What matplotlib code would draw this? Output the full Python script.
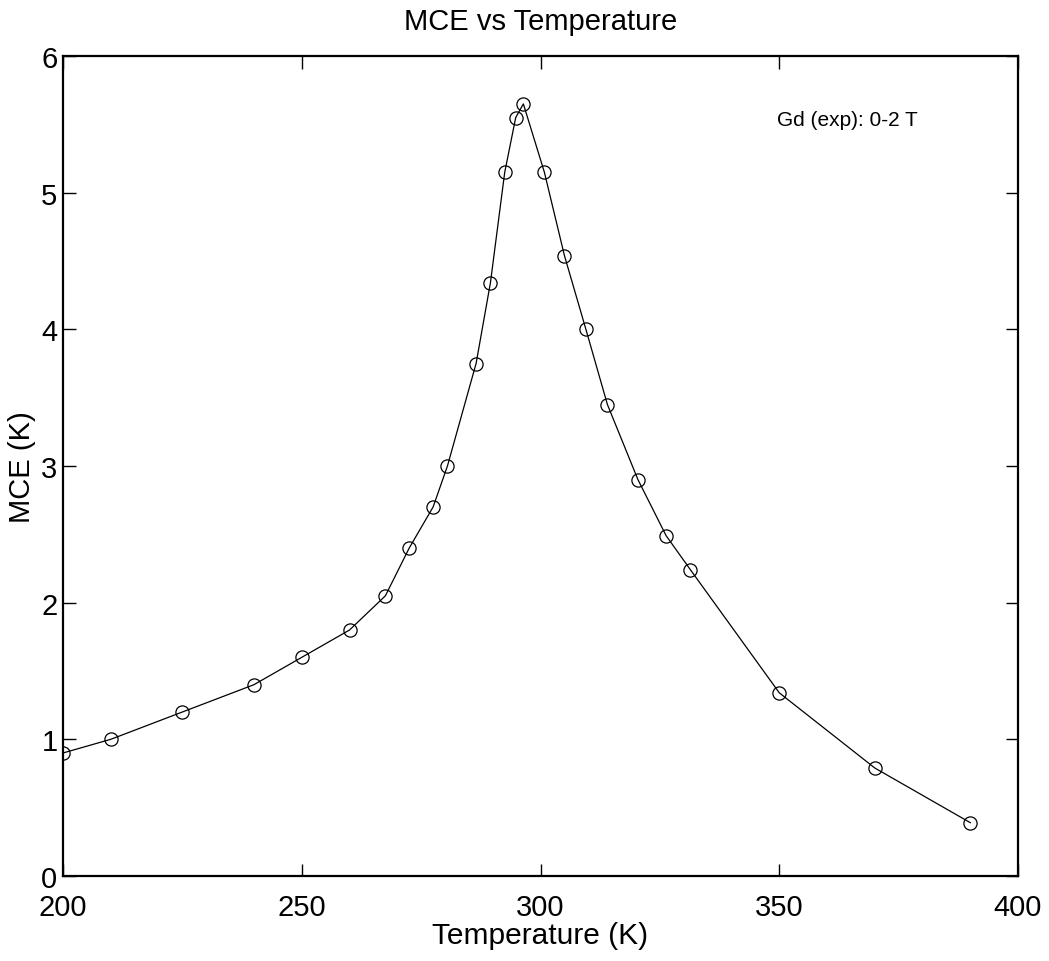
import matplotlib
matplotlib.use("Agg")
import matplotlib.pyplot as plt

plt.rcParams['font.family'] = ['Liberation Sans', 'DejaVu Sans']

temperature = [200, 210, 225, 240, 250, 260, 267.5, 272.5, 277.5, 280.5, 286.5, 289.5,
               292.5, 294.8, 296.4, 300.8, 305, 309.5, 314, 320.4, 326.3, 331.4, 350, 370, 390]
mce = [0.9, 1.0, 1.2, 1.4, 1.6, 1.8, 2.05, 2.4, 2.7, 3.0, 3.75, 4.34,
       5.15, 5.55, 5.65, 5.15, 4.54, 4.0, 3.45, 2.9, 2.49, 2.24, 1.34, 0.79, 0.39]
x_ticks = [200, 250, 300, 350, 400]
y_ticks = [0, 1, 2, 3, 4, 5, 6]

fig = plt.figure(figsize=(10.49, 9.62), dpi=100)
ax = fig.add_axes([0.0601, 0.0884, 0.9104, 0.8523])
ax.plot(temperature, mce, color='black', linewidth=0.9, marker='o',
        markersize=9.5, markerfacecolor='none', markeredgecolor='black', markeredgewidth=0.9)
ax.set_xlim(200, 400)
ax.set_ylim(0, 6)
ax.set_xticks(x_ticks)
ax.set_yticks(y_ticks)
ax.tick_params(direction='in', length=9, width=1, top=True, right=True, labelsize=21)
ax.tick_params(axis='x', pad=12)
ax.tick_params(axis='y', pad=4)
for s in ax.spines.values():
    s.set_linewidth(1.6)
ax.set_xlabel('Temperature (K)', fontsize=21.5)
ax.xaxis.label.set_va('center')
ax.xaxis.set_label_coords(0.5, -0.072)
ax.set_ylabel('MCE (K)', fontsize=21)
ax.yaxis.label.set_va('center')
ax.yaxis.set_label_coords(-0.043, 0.5)
ax.set_title('MCE vs Temperature', fontsize=21, y=1.0427, va='center', pad=0)
ax.text(0.748, 0.923, 'Gd (exp): 0-2 T', transform=ax.transAxes, fontsize=15, va='center', ha='left')
fig.savefig('out.png', dpi=100)
